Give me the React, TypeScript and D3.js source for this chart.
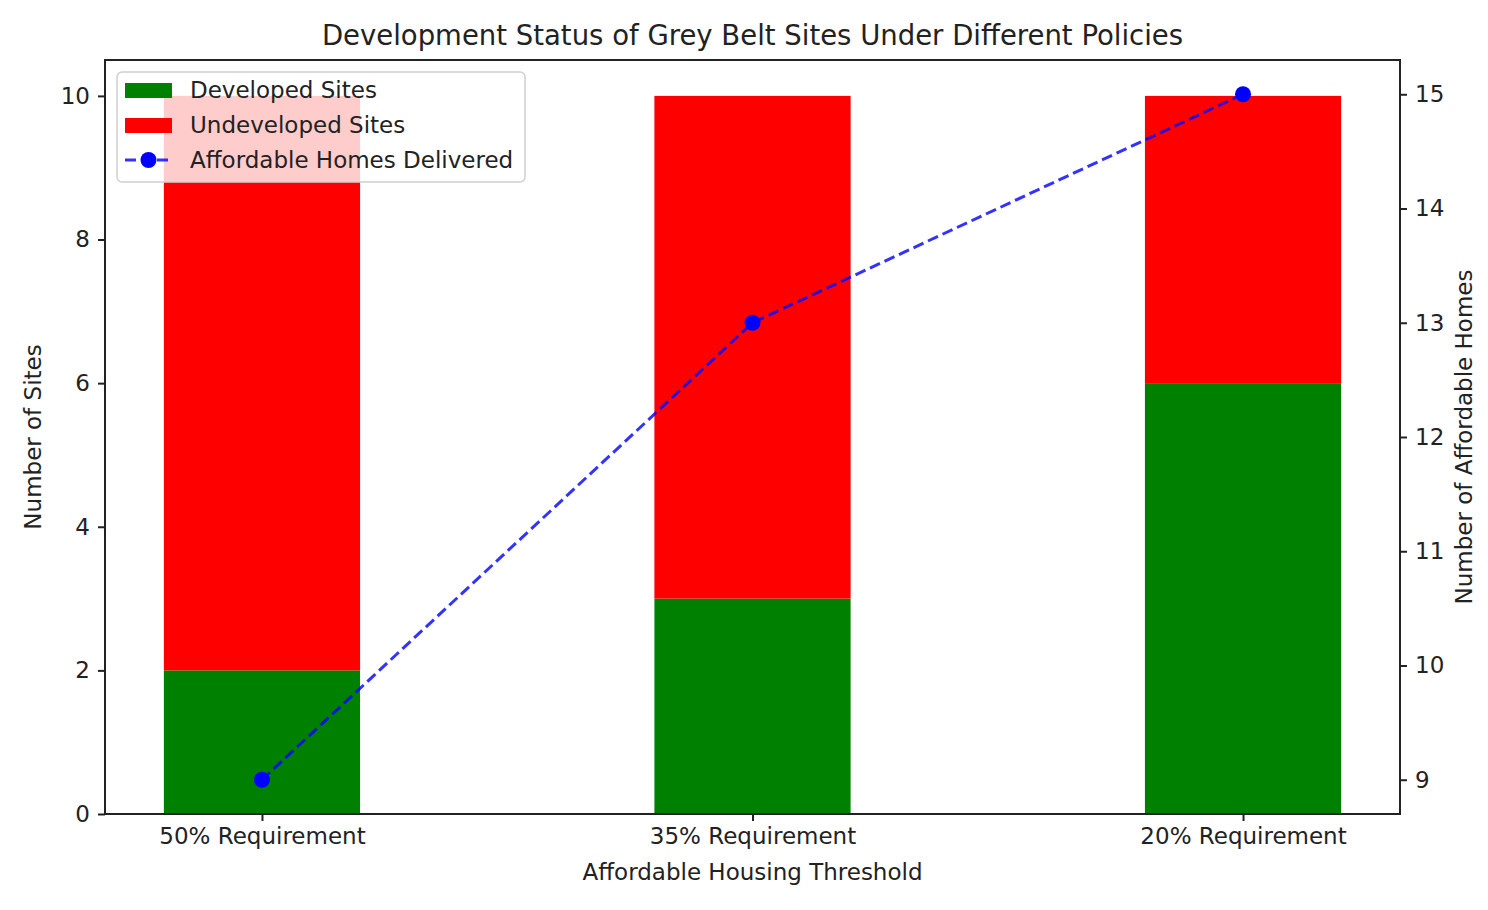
import React, { useEffect, useRef } from "react";
import * as d3 from "d3";

const categories = ["50% Requirement", "35% Requirement", "20% Requirement"];
const developed = [2, 3, 6];
const undeveloped = [8, 7, 4];
const affordableHomes = [9, 13, 15];
const leftTicks = [0, 2, 4, 6, 8, 10];
const rightTicks = [9, 10, 11, 12, 13, 14, 15];

export default function App() {
    const svgRef = useRef<SVGSVGElement>(null);

    useEffect(() => {
        const width = 1488;
        const height = 910;
        const marginLeft = 105;
        const marginRight = 88;
        const marginTop = 60;
        const marginBottom = 96;
        const font = "DejaVu Sans, sans-serif";
        const fs = 23;
        const textColor = "#222";

        const svg = d3.select(svgRef.current)
            .attr("width", width)
            .attr("height", height);

        svg.selectAll("*").remove();

        const x = d3.scaleLinear()
            .domain([-0.32, 2.32])
            .range([marginLeft, width - marginRight]);
        const y = d3.scaleLinear()
            .domain([0, 10.5])
            .range([height - marginBottom, marginTop]);
        const y2 = d3.scaleLinear()
            .domain([8.7, 15.3])
            .range([height - marginBottom, marginTop]);

        const barW = 0.4;

        // bars
        const g = svg.append("g");
        g.selectAll("rect.dev")
            .data(developed)
            .enter()
            .append("rect")
            .attr("x", (d, i) => x(i - barW / 2))
            .attr("width", x(barW) - x(0))
            .attr("y", d => y(d))
            .attr("height", d => y(0) - y(d))
            .attr("fill", "#008000");
        g.selectAll("rect.undev")
            .data(undeveloped)
            .enter()
            .append("rect")
            .attr("x", (d, i) => x(i - barW / 2))
            .attr("width", x(barW) - x(0))
            .attr("y", (d, i) => y(developed[i] + d))
            .attr("height", (d, i) => y(developed[i]) - y(developed[i] + d))
            .attr("fill", "#ff0000");

        // line on the right axis
        const line = d3.line<number>()
            .x((d, i) => x(i))
            .y(d => y2(d));
        svg.append("path")
            .datum(affordableHomes)
            .attr("d", line)
            .attr("fill", "none")
            .attr("stroke", "#0000ff")
            .attr("stroke-opacity", 0.8)
            .attr("stroke-width", 3)
            .attr("stroke-dasharray", "11,5");
        svg.selectAll("circle.pt")
            .data(affordableHomes)
            .enter()
            .append("circle")
            .attr("cx", (d, i) => x(i))
            .attr("cy", d => y2(d))
            .attr("r", 8)
            .attr("fill", "#0000ff");

        // frame
        svg.append("rect")
            .attr("x", marginLeft)
            .attr("y", marginTop)
            .attr("width", width - marginLeft - marginRight)
            .attr("height", height - marginTop - marginBottom)
            .attr("fill", "none")
            .attr("stroke", "#222")
            .attr("stroke-width", 2);

        const styleAxis = (sel: any) => {
            sel.select(".domain").remove();
            sel.selectAll("line").attr("stroke", "#222").attr("stroke-width", 2);
            sel.selectAll("text")
                .attr("fill", textColor)
                .style("font-family", font)
                .style("font-size", fs + "px");
        };

        svg.append("g")
            .attr("transform", `translate(0,${height - marginBottom})`)
            .call(d3.axisBottom(x).tickValues([0, 1, 2]).tickFormat((d, i) => categories[i]).tickSize(7).tickPadding(7))
            .call(styleAxis);

        svg.append("g")
            .attr("transform", `translate(${marginLeft},0)`)
            .call(d3.axisLeft(y).tickValues(leftTicks).tickFormat(d3.format("d")).tickSize(7).tickPadding(8))
            .call(styleAxis);

        svg.append("g")
            .attr("transform", `translate(${width - marginRight},0)`)
            .call(d3.axisRight(y2).tickValues(rightTicks).tickFormat(d3.format("d")).tickSize(7).tickPadding(8))
            .call(styleAxis);

        const txt = (s: string, tx: number, ty: number, size: number, rot = 0) =>
            svg.append("text")
                .attr("transform", `translate(${tx},${ty}) rotate(${rot})`)
                .attr("text-anchor", "middle")
                .attr("dominant-baseline", "central")
                .attr("fill", textColor)
                .style("font-family", font)
                .style("font-size", size + "px")
                .text(s);

        txt("Development Status of Grey Belt Sites Under Different Policies", (marginLeft + width - marginRight) / 2, 35, 27.5);
        txt("Affordable Housing Threshold", (marginLeft + width - marginRight) / 2, 872, fs);
        txt("Number of Sites", 33, (marginTop + height - marginBottom) / 2, fs, -90);
        txt("Number of Affordable Homes", 1464, (marginTop + height - marginBottom) / 2, fs, -90);

        // legend
        const lg = svg.append("g").attr("transform", "translate(117,72)");
        lg.append("rect")
            .attr("width", 408)
            .attr("height", 110)
            .attr("rx", 5)
            .attr("fill", "white")
            .attr("fill-opacity", 0.8)
            .attr("stroke", "#d0d0d0")
            .attr("stroke-width", 1.5);
        const items = [
            { label: "Developed Sites", color: "#008000", kind: "bar" },
            { label: "Undeveloped Sites", color: "#ff0000", kind: "bar" },
            { label: "Affordable Homes Delivered", color: "#0000ff", kind: "line" },
        ];
        items.forEach((it, i) => {
            const cy = 18 + i * 35;
            if (it.kind === "bar") {
                lg.append("rect")
                    .attr("x", 8).attr("y", cy - 7)
                    .attr("width", 47).attr("height", 15)
                    .attr("fill", it.color);
            } else {
                lg.append("line")
                    .attr("x1", 8).attr("x2", 55)
                    .attr("y1", cy).attr("y2", cy)
                    .attr("stroke", it.color)
                    .attr("stroke-opacity", 0.8)
                    .attr("stroke-width", 3)
                    .attr("stroke-dasharray", "11,5");
                lg.append("circle")
                    .attr("cx", 31.5).attr("cy", cy).attr("r", 8)
                    .attr("fill", it.color);
            }
            lg.append("text")
                .attr("x", 73)
                .attr("y", cy)
                .attr("dominant-baseline", "central")
                .attr("fill", textColor)
                .style("font-family", font)
                .style("font-size", fs + "px")
                .text(it.label);
        });
    }, []);

    return <svg ref={svgRef} style={{ position: "absolute", left: 0, top: 0, display: "block" }}></svg>;
}
